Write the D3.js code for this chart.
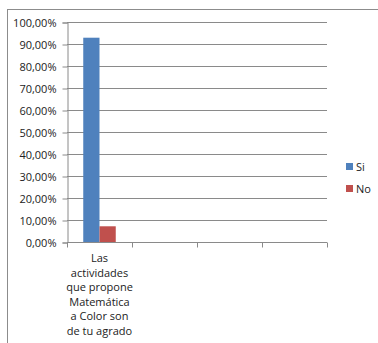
<!DOCTYPE html>
<html>
<head>
<meta charset="utf-8">
<script src="https://cdn.jsdelivr.net/npm/d3@7"></script>
<style>
  body { margin: 0; background: #fff; }
  text { font-family: "Open Sans", "DejaVu Sans", sans-serif; fill: #222; }
</style>
</head>
<body>
<div id="chart"></div>
<script>
// data
let categories = ["Las actividades que propone Matemática a Color son de tu agrado", "", "", ""];
let seriesNames = ["Si", "No"];
let siValues = [0.9286, null, null, null];
let noValues = [0.0714, null, null, null];
let yTicks = [0, 0.1, 0.2, 0.3, 0.4, 0.5, 0.6, 0.7, 0.8, 0.9, 1.0];
let labelLines = ["Las", "actividades", "que propone", "Matemática", "a Color son", "de tu agrado"];
let colors = ["#4F81BD", "#C0504D"];

let width = 378, height = 343;
let margin = {top: 22, left: 67, right: 51, bottom: 101};

let svg = d3.select("#chart").append("svg")
    .attr("width", width)
    .attr("height", height);

// outer frame
svg.append("rect")
    .attr("x", 7.5).attr("y", 9.5)
    .attr("width", 380).attr("height", 340)
    .attr("fill", "none")
    .attr("stroke", "#8c8c8c");

let x = d3.scaleBand()
    .domain(d3.range(categories.length))
    .range([margin.left, width - margin.right])
    .paddingInner(0).paddingOuter(0);

let y = d3.scaleLinear()
    .domain([0, 1])
    .range([height - margin.bottom, margin.top]);

let fmt = d => d3.format(".2f")(d * 100).replace(".", ",") + "%";

// gridlines
svg.append("g")
    .selectAll("line")
    .data(yTicks.filter(d => d > 0))
    .enter().append("line")
    .attr("x1", margin.left)
    .attr("x2", width - margin.right)
    .attr("y1", d => Math.round(y(d)) + 0.5)
    .attr("y2", d => Math.round(y(d)) + 0.5)
    .attr("stroke", "#8a8a8a");

// y axis
let yAxis = svg.append("g")
    .attr("transform", `translate(${margin.left + 0.5}, 0.5)`)
    .call(d3.axisLeft(y).tickValues(yTicks).tickFormat(fmt).tickSize(5).tickPadding(6));
yAxis.selectAll("path, line").attr("stroke", "#8a8a8a");
yAxis.selectAll("text")
    .style("font-size", "11px")
    .style("font-family", "'Open Sans', sans-serif")
    .attr("fill", "#222");

// bars
let sub = d3.scaleBand()
    .domain(seriesNames)
    .range([0, x.bandwidth()])
    .paddingInner(0)
    .paddingOuter(1);

let seriesData = [siValues, noValues];
seriesData.forEach((vals, si) => {
    svg.append("g")
        .selectAll("rect")
        .data(vals.map((v, i) => ({i: i, v: v})).filter(d => d.v != null))
        .enter().append("rect")
        .attr("x", d => x(d.i) + sub(seriesNames[si]))
        .attr("y", d => y(d.v))
        .attr("width", sub.bandwidth())
        .attr("height", d => y(0) - y(d.v))
        .attr("fill", colors[si]);
});

// x axis
let xAxis = svg.append("g")
    .attr("transform", `translate(0, ${Math.round(y(0)) + 0.5})`);
xAxis.append("line")
    .attr("x1", margin.left).attr("x2", width - margin.right)
    .attr("stroke", "#8a8a8a");
xAxis.selectAll(".tick")
    .data(d3.range(categories.length + 1))
    .enter().append("line")
    .attr("x1", d => Math.round(margin.left + d * x.bandwidth()) + 0.5)
    .attr("x2", d => Math.round(margin.left + d * x.bandwidth()) + 0.5)
    .attr("y1", 0).attr("y2", 5)
    .attr("stroke", "#8a8a8a");

// category label
let lbl = svg.append("text")
    .attr("text-anchor", "middle")
    .style("font-size", "11px");
lbl.selectAll("tspan")
    .data(labelLines)
    .enter().append("tspan")
    .attr("x", x(0) + x.bandwidth() / 2)
    .attr("y", (d, i) => 262 + i * 14.6)
    .text(d => d);

// legend
let legend = svg.append("g")
    .attr("transform", "translate(346, 160)");
seriesNames.forEach((name, i) => {
    legend.append("rect")
        .attr("x", 0).attr("y", i * 22 + 3)
        .attr("width", 7).attr("height", 7)
        .attr("fill", colors[i]);
    legend.append("text")
        .attr("x", 10).attr("y", i * 22 + 11)
        .style("font-size", "11px")
        .text(name);
});
</script>
</body>
</html>
